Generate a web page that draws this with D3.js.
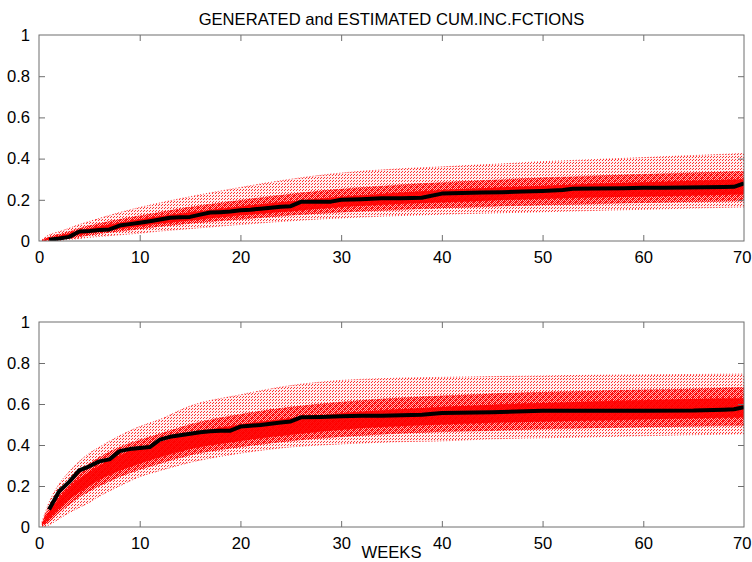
<!DOCTYPE html>
<html><head><meta charset="utf-8">
<script src="https://cdn.jsdelivr.net/npm/d3@7"></script>
<style>
html,body{margin:0;padding:0;background:#fff;}
text{font-family:"Liberation Sans",Arial,Helvetica,sans-serif;}
</style></head>
<body>
<svg id="c" width="752" height="562"></svg>
<script>
// ---------- DATA ----------
const title = "GENERATED and ESTIMATED CUM.INC.FCTIONS";
const xLabel = "WEEKS";
const xTicks = [0,10,20,30,40,50,60,70];
const yTicks = [0,0.2,0.4,0.6,0.8,1];
const yTickLabels = ["0","0.2","0.4","0.6","0.8","1"];

// weeks at which the band of generated curves is read off
const bandWeeks = [0.3,1,2,3,4,5,6,8,10,12,15,20,25,30,35,40,45,50,55,60,65,70];

// top panel – generated curves (lowest, 10%, 25%, middle, 75%, 90%, highest)
const topMin = [0,0,0.003,0.008,0.012,0.018,0.022,0.03,0.038,0.048,0.06,0.08,0.098,0.112,0.122,0.13,0.136,0.142,0.148,0.154,0.16,0.165];
const topQ10 = [0,0.004,0.008,0.014,0.02,0.028,0.035,0.047,0.058,0.07,0.085,0.105,0.125,0.14,0.15,0.16,0.168,0.175,0.18,0.186,0.19,0.195];
const topQ25 = [0,0.007,0.013,0.022,0.03,0.038,0.046,0.06,0.072,0.085,0.1,0.125,0.145,0.165,0.178,0.188,0.197,0.205,0.211,0.216,0.221,0.226];
const topQ50 = [0.002,0.01,0.018,0.028,0.04,0.048,0.056,0.072,0.088,0.1,0.118,0.145,0.168,0.19,0.205,0.218,0.228,0.237,0.245,0.252,0.258,0.263];
const topQ75 = [0.003,0.014,0.025,0.036,0.05,0.06,0.07,0.088,0.105,0.12,0.14,0.168,0.193,0.215,0.232,0.247,0.258,0.268,0.278,0.285,0.292,0.3];
const topQ90 = [0.004,0.02,0.033,0.046,0.062,0.074,0.085,0.105,0.123,0.14,0.165,0.198,0.228,0.252,0.27,0.284,0.296,0.307,0.316,0.324,0.331,0.338];
const topMax = [0.006,0.03,0.045,0.062,0.08,0.095,0.11,0.138,0.163,0.185,0.215,0.26,0.3,0.33,0.348,0.36,0.372,0.385,0.395,0.405,0.415,0.425];

// top panel – estimated curve
const topEstWeeks = [1,2,3,4,5,6,7,8,9,10,11,12,13,14,15,16,17,18,19,20,21,22,23,24,25,26,27,28,29,30,32,34,36,38,40,42,44,46,48,50,52,53,55,58,60,62,64,66,68,69,70];
const topEst = [0.006,0.012,0.02,0.046,0.048,0.053,0.056,0.075,0.082,0.089,0.096,0.104,0.113,0.115,0.117,0.128,0.138,0.14,0.143,0.149,0.152,0.157,0.161,0.166,0.169,0.19,0.19,0.191,0.191,0.2,0.203,0.207,0.208,0.21,0.23,0.233,0.235,0.237,0.24,0.243,0.248,0.254,0.255,0.256,0.258,0.259,0.26,0.261,0.262,0.263,0.28];

// bottom panel – generated curves
const botMin = [0,0.01,0.04,0.07,0.095,0.12,0.15,0.2,0.245,0.275,0.315,0.36,0.39,0.405,0.415,0.42,0.43,0.435,0.44,0.445,0.45,0.455];
const botQ10 = [0.004,0.025,0.07,0.11,0.145,0.175,0.2,0.245,0.28,0.31,0.35,0.39,0.42,0.44,0.455,0.465,0.47,0.478,0.483,0.488,0.492,0.495];
const botQ25 = [0.008,0.04,0.09,0.135,0.17,0.2,0.23,0.275,0.31,0.34,0.38,0.42,0.45,0.475,0.49,0.5,0.508,0.515,0.52,0.525,0.53,0.535];
const botQ50 = [0.012,0.055,0.115,0.165,0.2,0.235,0.265,0.31,0.345,0.375,0.415,0.46,0.49,0.515,0.532,0.545,0.555,0.563,0.57,0.576,0.581,0.586];
const botQ75 = [0.016,0.075,0.14,0.195,0.235,0.27,0.3,0.35,0.385,0.415,0.455,0.5,0.53,0.555,0.572,0.585,0.596,0.605,0.612,0.618,0.624,0.628];
const botQ90 = [0.02,0.1,0.17,0.225,0.27,0.31,0.34,0.39,0.425,0.455,0.5,0.55,0.585,0.61,0.628,0.64,0.65,0.658,0.664,0.67,0.675,0.68];
const botMax = [0.025,0.12,0.21,0.27,0.32,0.36,0.39,0.445,0.49,0.525,0.59,0.645,0.69,0.715,0.725,0.73,0.734,0.737,0.74,0.742,0.744,0.746];

// bottom panel – estimated curve
const botEstWeeks = [1,2,3,4,5,6,7,8,9,10,11,12,13,14,15,16,17,18,19,20,21,22,23,24,25,26,28,30,32,34,36,38,40,45,50,55,60,65,68,69,70];
const botEst = [0.085,0.174,0.22,0.276,0.296,0.32,0.33,0.37,0.38,0.385,0.39,0.426,0.44,0.448,0.455,0.462,0.467,0.469,0.47,0.49,0.494,0.498,0.504,0.51,0.515,0.535,0.537,0.54,0.543,0.543,0.545,0.548,0.556,0.56,0.567,0.567,0.567,0.568,0.572,0.574,0.584];

// ---------- DRAW ----------
const svg = d3.select("#c");
const axisColor = "#6f6f6f";
const fontSize = 16.6;

// dot patterns imitating many dotted red curves
const defs = svg.append("defs");
function dotPattern(id, w, h, dots, op) {
  const p = defs.append("pattern").attr("id", id).attr("patternUnits", "userSpaceOnUse")
    .attr("width", w).attr("height", h);
  dots.forEach(d => p.append("rect").attr("x", d[0]).attr("y", d[1]).attr("width", 1).attr("height", 1)
    .attr("fill", "#ff0000").attr("fill-opacity", op));
}
dotPattern("sparse", 3, 3, [[0,0],[2,1]], 0.8);
dotPattern("medium", 2, 2, [[0,0],[1,1]], 1);

const panels = [
  {top: 35, bottom: 241, band: [topMin, topQ10, topQ25, topQ50, topQ75, topQ90, topMax], estX: topEstWeeks, estY: topEst, title: true},
  {top: 322, bottom: 527, band: [botMin, botQ10, botQ25, botQ50, botQ75, botQ90, botMax], estX: botEstWeeks, estY: botEst, xlabel: true}
];
const left = 39, right = 744;

panels.forEach((p, pi) => {
  const x = d3.scaleLinear().domain([0, 70]).range([left, right]);
  const y = d3.scaleLinear().domain([0, 1]).range([p.bottom, p.top]);
  const g = svg.append("g");
  const clipId = "clip" + pi;
  defs.append("clipPath").attr("id", clipId).append("rect")
    .attr("x", left).attr("y", p.top).attr("width", right - left).attr("height", p.bottom - p.top);
  const plot = g.append("g").attr("clip-path", `url(#${clipId})`);

  const [mn, q10, q25, q50, q75, q90, mx] = p.band;
  const area = (lo, hi) => d3.area()
    .x((d, i) => x(bandWeeks[i]))
    .y0((d, i) => y(lo[i]))
    .y1((d, i) => y(hi[i]))
    .curve(d3.curveMonotoneX)(bandWeeks);

  plot.append("path").attr("d", area(mn, mx)).attr("fill", "url(#sparse)");
  plot.append("path").attr("d", area(mn, mx)).attr("fill", "#ff0000").attr("fill-opacity", 0.06);
  plot.append("path").attr("d", area(q10, q90)).attr("fill", "url(#medium)");
  plot.append("path").attr("d", area(q10, q90)).attr("fill", "#ff0000").attr("fill-opacity", 0.25);
  plot.append("path").attr("d", area(q25, q75)).attr("fill", "#ff0000").attr("fill-opacity", 0.9);

  const line = d3.line().x(d => x(d[0])).y(d => y(d[1])).curve(d3.curveMonotoneX);
  p.band.forEach(arr => {
    plot.append("path").attr("d", line(bandWeeks.map((w, i) => [w, arr[i]])))
      .attr("fill", "none").attr("stroke", "#ff0000").attr("stroke-width", 1)
      .attr("stroke-dasharray", "1,2").attr("opacity", 0.7);
  });

  plot.append("path").attr("d", d3.line().x(d => x(d[0])).y(d => y(d[1]))(p.estX.map((w, i) => [w, p.estY[i]])))
    .attr("fill", "none").attr("stroke", "#000").attr("stroke-width", 4)
    .attr("stroke-linejoin", "round");

  // box
  g.append("rect").attr("x", left).attr("y", p.top).attr("width", right - left).attr("height", p.bottom - p.top)
    .attr("fill", "none").attr("stroke", axisColor).attr("stroke-width", 1);

  // axes with inward ticks
  const tl = 6;
  const xb = g.append("g").attr("transform", `translate(0,${p.bottom})`)
    .call(d3.axisBottom(x).tickValues(xTicks).tickSize(-tl).tickPadding(tl + 4).tickFormat(d3.format("d")));
  const xt = g.append("g").attr("transform", `translate(0,${p.top})`)
    .call(d3.axisTop(x).tickValues(xTicks).tickSize(-tl).tickFormat(""));
  const yl = g.append("g").attr("transform", `translate(${left},0)`)
    .call(d3.axisLeft(y).tickValues(yTicks).tickSize(-tl).tickPadding(tl + 3).tickFormat((d, i) => yTickLabels[i]));
  const yr = g.append("g").attr("transform", `translate(${right},0)`)
    .call(d3.axisRight(y).tickValues(yTicks).tickSize(-tl).tickFormat(""));
  [xb, xt, yl, yr].forEach(a => {
    a.select(".domain").remove();
    a.selectAll("line").attr("stroke", axisColor);
    a.selectAll("text").attr("fill", "#000").attr("font-size", fontSize)
      .attr("font-family", "'Liberation Sans', Arial, sans-serif");
  });
  // keep the last x label inside the picture (it touches the right edge)
  xb.selectAll(".tick text").filter(d => d === 70).attr("text-anchor", "end").attr("x", 751 - right);
  [xb, xt].forEach(a => a.selectAll(".tick line").filter(d => d === 0 || d === 70).remove());
  [yl, yr].forEach(a => a.selectAll(".tick line").filter(d => d === 0 || d === 1).remove());

  if (p.title) {
    svg.append("text").attr("x", (left + right) / 2).attr("y", 25).attr("text-anchor", "middle")
      .attr("font-size", fontSize).attr("fill", "#000").text(title);
  }
  if (p.xlabel) {
    svg.append("text").attr("x", (left + right) / 2).attr("y", 558).attr("text-anchor", "middle")
      .attr("font-size", fontSize).attr("fill", "#000").text(xLabel);
  }
});
</script>
</body></html>
